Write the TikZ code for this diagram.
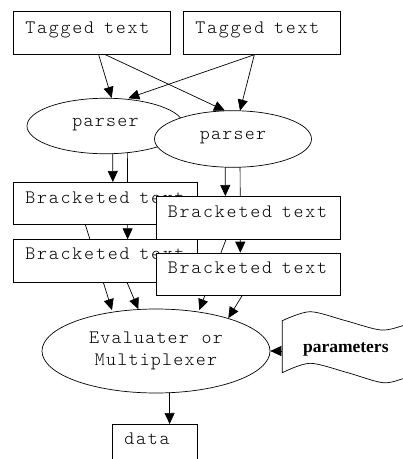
\documentclass[tikz,border=0pt]{standalone}
\usepackage{fontspec}
\newfontfamily\cour{lmmonolt10-regular}[Extension=.otf, LetterSpace=9.5, WordSpace=1.15]
\newfontfamily\courell{lmmonolt10-regular}[Extension=.otf, LetterSpace=6.5, WordSpace=1.13]
\newfontfamily\tms{Liberation Serif}
\newcommand\wsp{~\kern3.5pt}
\usetikzlibrary{arrows.meta,shapes.geometric,backgrounds}
\tikzset{
  base/.style={draw=black, fill=white, line width=0.7pt},
  txtbox/.style={base, rectangle, anchor=north west, align=left,
    font=\cour\fontsize{19}{22}\selectfont, inner xsep=12pt, inner ysep=0pt,
    text height=21pt, text depth=21pt},
  ell/.style={base, ellipse, inner sep=0pt, font=\courell\fontsize{19}{21.6}\selectfont,
    text height=8pt, text depth=8pt},
  arr/.style={draw=black, line width=0.7pt, -{Triangle[length=11pt,width=10pt]}}
}
\begin{document}
\begin{tikzpicture}[x=1pt,y=-1pt]
\useasboundingbox (0,0) rectangle (403,459);
\clip (0,0) rectangle (403,459);
% nodes
\node[txtbox, text width=133pt, text height=22pt] (tag1) at (13,11) {\rlap{Tagged\wsp text}};
\node[txtbox, text width=133pt, text height=22pt] (tag2) at (183,11) {\rlap{Tagged\wsp text}};
\node[ell, minimum width=157pt, minimum height=55.5pt] (p1) at (105.5,126) {parser};
\node[ell, minimum width=157pt, minimum height=56.6pt] (p2) at (233,139) {parser};
\node[txtbox, text width=160pt] (b1a) at (13,182) {\rlap{Bracketed\wsp text}};
\node[txtbox, text width=160.5pt, text depth=21.5pt] (b1b) at (155.5,196) {\rlap{Bracketed\wsp text}};
\node[txtbox, text width=160pt, text height=20pt, text depth=22.4pt] (b2a) at (13,239.3) {\rlap{Bracketed\wsp text}};
\node[txtbox, text width=160.5pt, text height=20.3pt, text depth=22pt] (b2b) at (155.5,252.7) {\rlap{Bracketed\wsp text}};
\node[ell, minimum width=228pt, minimum height=84pt, text height=, text depth=, align=center] (ev) at (156,351) {Evaluater or\\Multiplexer};
\node[txtbox, text width=61pt, text height=20pt, text depth=40pt] (data) at (112,424) {\rlap{data}};
% parameters flag
\filldraw[base] plot[smooth] coordinates {(282.3,320.7) (310,311.7) (345,320.5) (381,330) (405,325) (425,318)}
  -- (425,371) -- plot[smooth] coordinates {(425,371) (405,378) (383,382.7) (347,372.5) (310,363.3) (282.3,372.7)} -- cycle;
\node[font=\tms\bfseries\fontsize{17.5}{20}\selectfont, anchor=base, inner sep=0pt] (params) at (345.8,352.7) {parameters};
\coordinate (pedge) at (282.3,351);
\draw[arr] (pedge) -- (ev.east);
% connectors
\begin{pgfonlayer}{background}
\fill[white] (0,0) rectangle (403,459);
\draw[arr] ([shift={(6.8,0)}]tag1.south) -- ([shift={(6.2,0)}]p1.north);
\draw[arr] ([shift={(13.5,0)}]tag1.south) -- ([shift={(-8,0.3)}]p2.north);
\draw[arr] ([shift={(-7.5,0)}]tag2.south) -- ([shift={(22.8,0.3)}]p1.north);
\draw[arr] ([shift={(-7.5,0)}]tag2.south) -- ([shift={(7,0.3)}]p2.north);
\draw[arr] ([shift={(7,0)}]p1.center) -- ([shift={(7.5,0)}]b1a.north);
\draw[arr] ([shift={(21.8,0)}]p1.center) -- ([shift={(22.3,0)}]b2a.north);
\draw[arr] ([shift={(-8,0)}]p2.center) -- ([shift={(-22.75,0)}]b1b.north);
\draw[arr] ([shift={(7,0)}]p2.center) -- ([shift={(-7.75,0)}]b2b.north);
\draw[arr] ([shift={(-20,0)}]b1a.south) -- ([shift={(-44,1.5)}]ev.north);
\draw[arr] ([shift={(21.7,0)}]b2a.south) -- ([shift={(-17.7,0.5)}]ev.north);
\draw[arr] ([shift={(-22,0)}]b1b.south) -- ([shift={(43.3,1.5)}]ev.north);
\draw[arr] ([shift={(-6,0)}]b2b.south) -- ([shift={(72.3,9.5)}]ev.north);
\draw[arr] ([shift={(13.3,0)}]ev.center) -- ([shift={(14.8,0)}]data.north);
\end{pgfonlayer}
\end{tikzpicture}
\end{document}
